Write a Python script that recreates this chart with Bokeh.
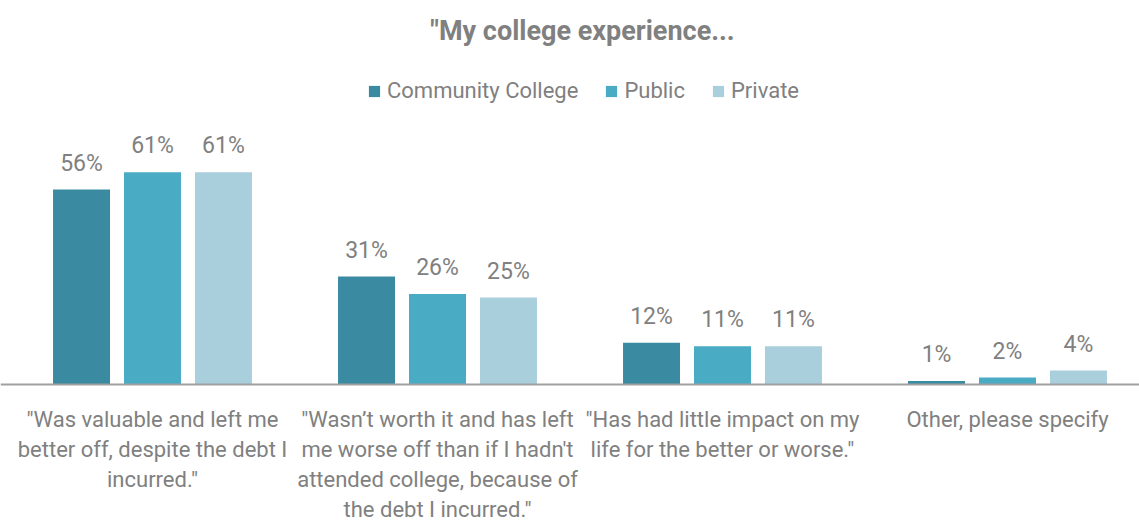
from bokeh.plotting import figure
from bokeh.models import Range1d, Span, Legend, LegendItem, ColumnDataSource, Label
from bokeh.core.properties import value
from bokeh.embed import file_html
from bokeh.resources import INLINE

title = "\"My college experience..."
categories = [
    "\"Was valuable and left me\nbetter off, despite the debt I\nincurred.\"",
    "\"Wasn\u2019t worth it and has left\nme worse off than if I hadn't\nattended college, because of\nthe debt I incurred.\"",
    "\"Has had little impact on my\nlife for the better or worse.\"",
    "Other, please specify",
]
series = ["Community College", "Public", "Private"]
community = [56, 31, 12, 1]
public = [61, 26, 11, 2]
private = [61, 25, 11, 4]
colors = ["#3a8ba1", "#4aabc5", "#a9cfdd"]

FONT = "Roboto, sans-serif"
GRAY = "#808080"

W, H = 1139, 520
px_per_unit = 3.48
base_px = 384
p = figure(width=W, height=H, output_backend="svg", toolbar_location=None,
           x_range=Range1d(-152 / 285, -152 / 285 + W / 285),
           y_range=Range1d(-(H - base_px) / px_per_unit, base_px / px_per_unit),
           min_border_left=0, min_border_right=0, min_border_bottom=0, min_border_top=0)
p.axis.visible = False
p.grid.visible = False
p.outline_line_color = None

p.add_layout(Label(x=582, y=H - 30, x_units="screen", y_units="screen", text=title,
                   text_align="center", text_baseline="middle", text_font=FONT,
                   text_font_size="27px", text_font_style="bold", text_color=GRAY))

xs = list(range(len(categories)))
offsets = [-0.249, 0.0, 0.249]
items = []
for vals, name, col, off in zip([community, public, private], series, colors, offsets):
    src = ColumnDataSource(dict(x=[x + off for x in xs], top=vals,
                                lab=[f"{v}%" for v in vals]))
    r = p.vbar(x="x", top="top", width=0.2, source=src, fill_color=col, line_color=None)
    items.append(LegendItem(label=name, renderers=[r]))
    p.text(x="x", y="top", text="lab", source=src, text_align="center",
           text_baseline="bottom", y_offset=-13, text_font=value(FONT),
           text_font_size="23px", text_color=GRAY)

p.add_layout(Span(location=0, dimension="width", line_color="#a0a0a0", line_width=2))

csrc = ColumnDataSource(dict(x=xs, y=[0] * len(xs), t=categories))
p.text(x="x", y="y", text="t", source=csrc, text_align="center", text_baseline="top",
       y_offset=22, text_font=value(FONT), text_font_size="22px", text_color=GRAY,
       text_line_height=1.2)

legend = Legend(items=items, orientation="horizontal", location=(367, 417))
legend.padding = 0
legend.margin = 0
legend.spacing = 26
legend.glyph_width = 14
legend.glyph_height = 14
legend.label_standoff = 6
legend.label_text_font = FONT
legend.label_text_font_size = "22px"
legend.label_text_color = GRAY
legend.border_line_color = None
legend.background_fill_alpha = 0
p.add_layout(legend)

open("out.html", "w").write(file_html(p, INLINE))
